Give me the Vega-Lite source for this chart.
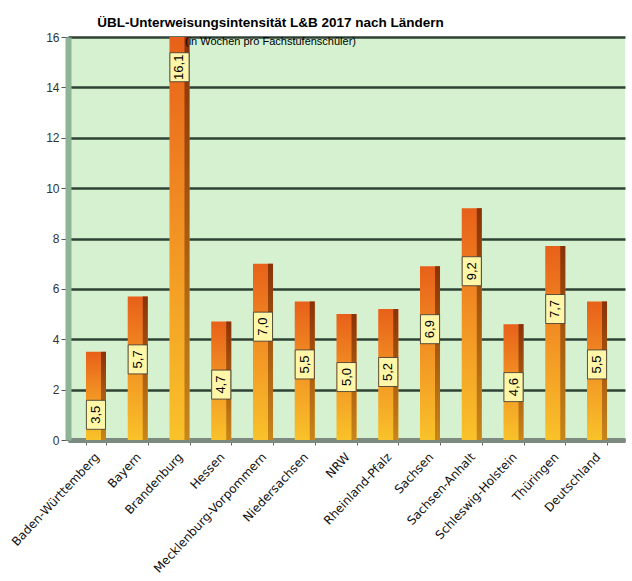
{
  "$schema": "https://vega.github.io/schema/vega-lite/v6.json",
  "width": 557,
  "height": 403,
  "autosize": "none",
  "padding": {"left": 68, "top": 37, "right": 7, "bottom": 141},
  "background": "white",
  "title": {
    "text": "ÜBL-Unterweisungsintensität L&B  2017 nach Ländern",
    "subtitle": "(in Wochen pro Fachstufenschüler)",
    "font": "Liberation Sans",
    "fontSize": 13.5,
    "fontWeight": "bold",
    "color": "black",
    "subtitleFont": "Liberation Sans",
    "subtitleFontSize": 11,
    "subtitleColor": "black",
    "subtitlePadding": 7,
    "anchor": "middle",
    "dx": -76,
    "offset": -16,
    "orient": "top"
  },
  "data": {
    "values": [
      {"land": "Baden-Württemberg", "wert": 3.5, "label": "3,5"},
      {"land": "Bayern", "wert": 5.7, "label": "5,7"},
      {"land": "Brandenburg", "wert": 16.1, "label": "16,1"},
      {"land": "Hessen", "wert": 4.7, "label": "4,7"},
      {"land": "Mecklenburg-Vorpommern", "wert": 7.0, "label": "7,0"},
      {"land": "Niedersachsen", "wert": 5.5, "label": "5,5"},
      {"land": "NRW", "wert": 5.0, "label": "5,0"},
      {"land": "Rheinland-Pfalz", "wert": 5.2, "label": "5,2"},
      {"land": "Sachsen", "wert": 6.9, "label": "6,9"},
      {"land": "Sachsen-Anhalt", "wert": 9.2, "label": "9,2"},
      {"land": "Schleswig-Holstein", "wert": 4.6, "label": "4,6"},
      {"land": "Thüringen", "wert": 7.7, "label": "7,7"},
      {"land": "Deutschland", "wert": 5.5, "label": "5,5"}
    ]
  },
  "transform": [{"calculate": "datum.wert > 12 ? datum.wert - 1.3 : datum.wert - 2.5", "as": "labpos"}],
  "encoding": {
    "x": {
      "field": "land",
      "type": "nominal",
      "sort": null,
      "scale": {"paddingInner": 0.52, "paddingOuter": 0.43},
      "axis": {
        "title": null,
        "labelAngle": -47,
        "labelAlign": "right",
        "labelBaseline": "top",
        "labelFont": "DejaVu Sans",
        "labelFontSize": 12,
        "labelColor": "#111",
        "labelPadding": 6,
        "labelOffset": -3,
        "domain": true,
        "domainColor": "#7c8a80",
        "domainWidth": 5,
        "tickColor": "#666",
        "tickSize": 5,
        "tickBand": "extent"
      }
    }
  },
  "layer": [
    {
      "mark": {
        "type": "bar",
        "color": {
          "gradient": "linear",
          "x1": 0, "y1": 0, "x2": 0, "y2": 1,
          "stops": [
            {"offset": 0, "color": "#e8601a"},
            {"offset": 0.5, "color": "#f29424"},
            {"offset": 1, "color": "#f9c22a"}
          ]
        }
      },
      "encoding": {
        "y": {
          "field": "wert",
          "type": "quantitative",
          "scale": {"domain": [0, 16], "clamp": true},
          "axis": {
            "title": null,
            "values": [0, 2, 4, 6, 8, 10, 12, 14, 16],
            "labelFont": "Liberation Sans",
            "labelFontSize": 12,
            "labelColor": "#333",
            "tickColor": "#555",
            "tickSize": 7,
            "domainColor": "#8db595",
            "domainWidth": 6,
            "gridColor": "#2f4034",
            "gridWidth": 2.5
          }
        }
      }
    },
    {
      "mark": {
        "type": "bar",
        "width": 5,
        "xOffset": 7.5,
        "color": {
          "gradient": "linear",
          "x1": 0, "y1": 0, "x2": 0, "y2": 1,
          "stops": [
            {"offset": 0, "color": "#8a3208"},
            {"offset": 1, "color": "#c8861a"}
          ]
        }
      },
      "encoding": {
        "y": {"field": "wert", "type": "quantitative"}
      }
    },
    {
      "mark": {
        "type": "point",
        "shape": "M-0.66,-1H0.66V1H-0.66Z",
        "size": 841,
        "filled": true,
        "fill": "#fff6a8",
        "stroke": "#333",
        "strokeWidth": 0.8,
        "opacity": 1
      },
      "encoding": {
        "y": {"field": "labpos", "type": "quantitative"}
      }
    },
    {
      "mark": {
        "type": "text",
        "angle": 270,
        "font": "Liberation Sans",
        "fontSize": 13,
        "color": "black",
        "baseline": "middle",
        "align": "center"
      },
      "encoding": {
        "y": {"field": "labpos", "type": "quantitative"},
        "text": {"field": "label"}
      }
    }
  ],
  "config": {
    "view": {"fill": "#d6f1d0", "stroke": null},
    "axis": {"gridOpacity": 1}
  }
}
